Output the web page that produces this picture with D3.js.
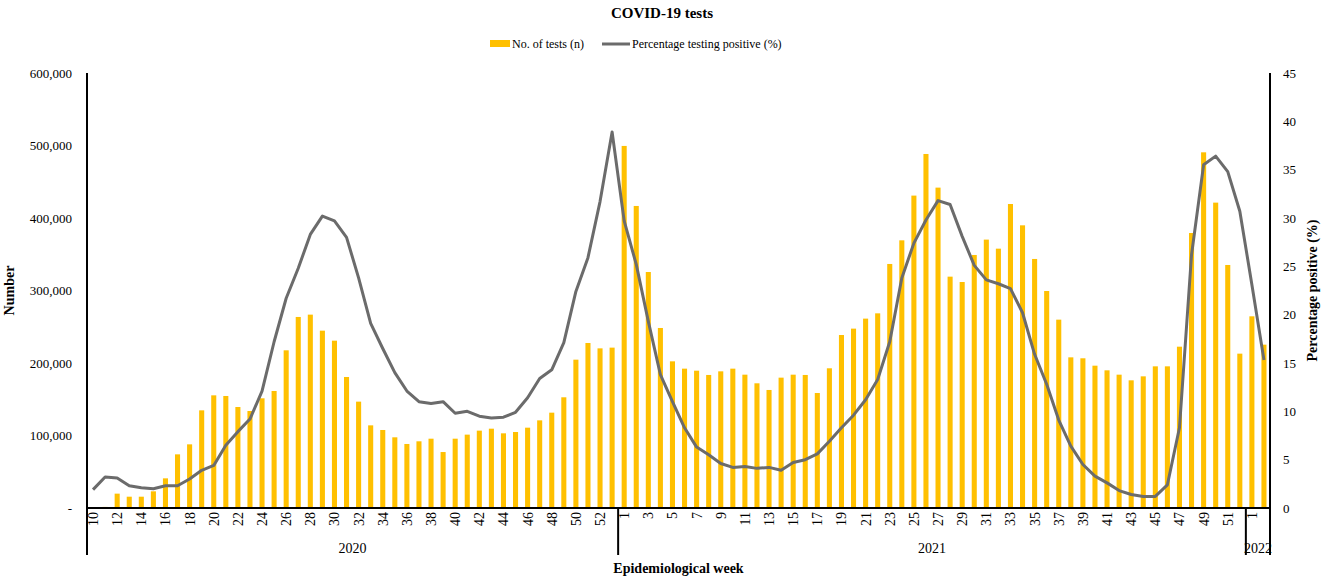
<!DOCTYPE html>
<html>
<head>
<meta charset="utf-8">
<script src="https://cdn.jsdelivr.net/npm/d3@7"></script>
<style>
  body { margin: 0; background: #fff; }
  text { font-family: "Liberation Serif", "Times New Roman", serif; fill: #000; }
</style>
</head>
<body>
<div id="chart-area"></div>
<script>
/*
*    COVID-19 tests - weekly tests and positivity
*/

// Data
var years2020 = d3.range(10, 54);
var years2021 = d3.range(1, 53);
var years2022 = [1, 2];

var tests2020 = [0, 1500, 19800, 15600, 15600, 23000, 40900, 74000, 87800, 134700,
  155400, 154500, 139300, 133800, 151300, 161400, 217500, 263500, 266700, 244600,
  230800, 180700, 146700, 114000, 107600, 97500, 88300, 92000, 95600, 77200,
  95600, 101200, 106700, 109400, 103000, 104800, 110800, 120900, 131500, 152700,
  204600, 227600, 220200, 221200];
var tests2021 = [499400, 416600, 325500, 248300, 202300, 192200, 189400, 183500, 188500, 192200,
  183900, 172000, 162800, 179800, 183900, 183500, 158600, 192700, 238600, 247400,
  261200, 268500, 336600, 369200, 430900, 488300, 441900, 319100, 311700, 349000,
  370200, 357700, 419300, 389900, 343500, 299300, 259800, 207800, 206500, 196300,
  189900, 183900, 176100, 181600, 195400, 195400, 222500, 379300, 490600, 421200,
  335200, 212900];
var tests2022 = [264400, 225300];

var pos2020 = [1.9, 3.2, 3.1, 2.3, 2.1, 2.0, 2.3, 2.3, 3.0, 3.9,
  4.4, 6.5, 7.9, 9.2, 12.1, 17.2, 21.7, 24.8, 28.3, 30.2,
  29.7, 28.0, 23.8, 19.1, 16.5, 14.0, 12.1, 11.0, 10.8, 11.0,
  9.8, 10.0, 9.5, 9.3, 9.4, 9.9, 11.4, 13.4, 14.3, 17.1,
  22.4, 25.9, 31.7, 38.9];
var pos2021 = [29.7, 25.2, 19.3, 13.8, 11.0, 8.3, 6.3, 5.5, 4.6, 4.2,
  4.3, 4.1, 4.2, 3.9, 4.7, 5.0, 5.6, 6.9, 8.3, 9.6,
  11.2, 13.3, 17.2, 23.8, 27.4, 29.8, 31.8, 31.4, 28.1, 25.1,
  23.6, 23.2, 22.7, 20.2, 15.9, 12.8, 9.1, 6.4, 4.5, 3.3,
  2.6, 1.8, 1.4, 1.2, 1.2, 2.4, 8.3, 26.2, 35.5, 36.4,
  34.8, 30.7];
var pos2022 = [23.1, 15.3];

var yearLabels = ["2020", "2021", "2022"];
var leftTicks = [0, 100000, 200000, 300000, 400000, 500000, 600000];
var rightTicks = [0, 5, 10, 15, 20, 25, 30, 35, 40, 45];

var data = [];
[[years2020, tests2020, pos2020, "2020"], [years2021, tests2021, pos2021, "2021"], [years2022, tests2022, pos2022, "2022"]]
  .forEach(function(s) {
    s[0].forEach(function(w, i) {
      data.push({key: s[3] + "-" + w, year: s[3], week: w, tests: s[1][i], pos: s[2][i]});
    });
  });

var margin = {top: 73, right: 55, bottom: 72, left: 87};
var width = 1325 - margin.left - margin.right;
var height = 580 - margin.top - margin.bottom;

var svg = d3.select("#chart-area").append("svg").attr("width", 1325).attr("height", 580);
var g = svg.append("g").attr("transform", "translate(" + margin.left + ", " + margin.top + ")");

// Scales
var x = d3.scaleBand().domain(data.map(function(d) { return d.key; })).range([0, width]).paddingInner(0.58).paddingOuter(0.29);
var y = d3.scaleLinear().domain([0, 600000]).range([height, 0]);
var y2 = d3.scaleLinear().domain([0, 45]).range([height, 0]);

// Bars
g.selectAll("rect.bar").data(data).enter().append("rect").attr("class", "bar")
  .attr("x", function(d) { return x(d.key); }).attr("y", function(d) { return y(d.tests); })
  .attr("width", x.bandwidth()).attr("height", function(d) { return height - y(d.tests); })
  .attr("fill", "#FFC000");

// Line
var line = d3.line().x(function(d) { return x(d.key) + x.bandwidth() / 2; }).y(function(d) { return y2(d.pos); });
g.append("path").datum(data).attr("d", line).attr("fill", "none").attr("stroke", "#6b6b6b")
  .attr("stroke-width", 3).attr("stroke-linejoin", "round");

// Axis
var leftAxis = d3.axisLeft(y).tickValues(leftTicks).tickSize(0).tickPadding(15)
  .tickFormat(function(d) { return d === 0 ? "-" : d3.format(",")(d); });
var la = g.append("g").attr("class", "y axis").call(leftAxis);
la.select(".domain").remove();
la.selectAll("text").style("font-size", "13px").style("font-family", "'Liberation Serif', serif");

var rightAxis = d3.axisRight(y2).tickValues(rightTicks).tickSize(0).tickPadding(13);
var ra = g.append("g").attr("class", "y2 axis").attr("transform", "translate(" + width + ",0)").call(rightAxis);
ra.select(".domain").remove();
ra.selectAll("text").style("font-size", "13px").style("font-family", "'Liberation Serif', serif");

var bottomAxis = d3.axisBottom(x).tickSize(0)
  .tickValues(data.filter(function(d, i) { return i % 2 === 0; }).map(function(d) { return d.key; }))
  .tickFormat(function(k) { return k.split("-")[1]; });
var ba = g.append("g").attr("class", "x axis").attr("transform", "translate(0, " + height + ")").call(bottomAxis);
ba.select(".domain").remove();
ba.selectAll("text").attr("transform", "rotate(-90)").attr("text-anchor", "end")
  .attr("x", -4).attr("y", 0).attr("dy", "0.35em")
  .style("font-size", "14px").style("font-family", "'Liberation Serif', serif");

// Axis lines and year dividers
var lower = height + 47;
g.append("line").attr("x1", 0).attr("x2", width).attr("y1", height).attr("y2", height).attr("stroke", "#000").attr("stroke-width", 2);
g.append("line").attr("x1", 0).attr("x2", 0).attr("y1", 0).attr("y2", lower).attr("stroke", "#000").attr("stroke-width", 2);
g.append("line").attr("x1", width).attr("x2", width).attr("y1", 0).attr("y2", lower).attr("stroke", "#000").attr("stroke-width", 2);

var firstKeys = ["2021-1", "2022-1"];
firstKeys.forEach(function(k) {
  var xx = x(k) - x.step() * x.paddingInner() / 2;
  g.append("line").attr("x1", xx).attr("x2", xx).attr("y1", height).attr("y2", lower).attr("stroke", "#000").attr("stroke-width", 2);
});

// Year labels
yearLabels.forEach(function(yr) {
  var items = data.filter(function(d) { return d.year === yr; });
  var x0 = x(items[0].key) - x.step() * x.paddingInner() / 2;
  var x1 = x(items[items.length - 1].key) + x.bandwidth() + x.step() * x.paddingInner() / 2;
  g.append("text").attr("x", (x0 + x1) / 2).attr("y", height + 45).attr("text-anchor", "middle")
    .attr("font-size", "14px").text(yr);
});

// Labels
g.append("text").attr("x", width / 2).attr("y", height + 65).attr("text-anchor", "middle")
  .attr("font-size", "14px").attr("font-weight", "bold").text("Epidemiological week");

g.append("text").attr("x", -(height / 2)).attr("y", -73).attr("transform", "rotate(-90)")
  .attr("text-anchor", "middle").attr("font-size", "14px").attr("font-weight", "bold").text("Number");

g.append("text").attr("x", -(height / 2)).attr("y", width + 47).attr("transform", "rotate(-90)")
  .attr("text-anchor", "middle").attr("font-size", "14px").attr("font-weight", "bold").text("Percentage positive (%)");

svg.append("text").attr("x", 662).attr("y", 18).attr("text-anchor", "middle")
  .attr("font-size", "15px").attr("font-weight", "bold").text("COVID-19 tests");

// Legend
var legend = svg.append("g").attr("transform", "translate(490, 44)");
legend.append("rect").attr("x", 0).attr("y", -4).attr("width", 20).attr("height", 7).attr("fill", "#FFC000");
legend.append("text").attr("x", 22).attr("y", 0).attr("dy", "0.35em").attr("font-size", "12px").text("No. of tests (n)");
legend.append("line").attr("x1", 112).attr("x2", 140).attr("y1", 0).attr("y2", 0).attr("stroke", "#6b6b6b").attr("stroke-width", 3);
legend.append("text").attr("x", 142).attr("y", 0).attr("dy", "0.35em").attr("font-size", "12px").text("Percentage testing positive (%)");
</script>
</body>
</html>
